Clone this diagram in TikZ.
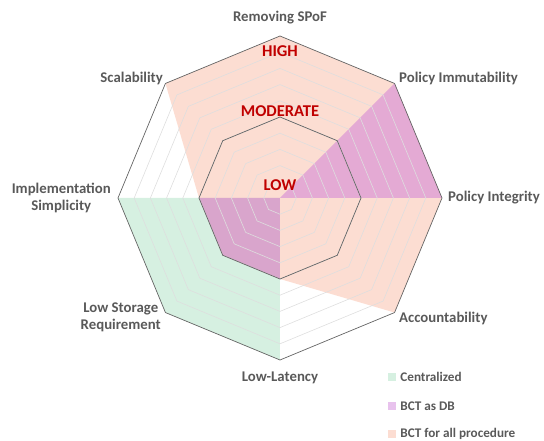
\documentclass[tikz,border=0pt]{standalone}
\usepackage{fontspec}
\setmainfont{Carlito}
\usetikzlibrary{positioning}
\definecolor{axisgray}{RGB}{89,89,89}
\definecolor{gridgray}{RGB}{222,222,222}
\definecolor{ringgray}{RGB}{100,100,100}
\definecolor{levelred}{RGB}{192,0,0}
\definecolor{centralgreen}{RGB}{173,225,195}
\definecolor{dbpurple}{RGB}{205,120,215}
\definecolor{allsalmon}{RGB}{249,187,165}

\begin{document}
\begin{tikzpicture}[x=1pt, y=1pt,
    axislabel/.style={text=axisgray, font=\fontsize{14.8}{17}\selectfont\bfseries, align=center, inner sep=1pt},
    levellabel/.style={text=levelred, font=\fontsize{16.5}{18}\selectfont\bfseries, inner sep=0pt},
    legendtext/.style={text=axisgray, font=\fontsize{13.2}{15}\selectfont\bfseries, inner sep=0pt, anchor=west},
    swatch/.style={minimum width=8pt, minimum height=8pt, inner sep=0pt},
    grid/.style={draw=gridgray, line width=0.6pt},
    ring/.style={draw=ringgray, line width=0.7pt}]
    \useasboundingbox (-280,-243) rectangle (264,198);

    % series: Centralized, BCT for all procedure, BCT as DB
    \fill[centralgreen, fill opacity=0.5] (90:0) -- (45:0) -- (0:0) -- (-45:0) -- (-90:162) -- (-135:162) -- (180:162) -- (135:0) -- cycle;
    \fill[allsalmon, fill opacity=0.5] (90:162) -- (45:162) -- (0:162) -- (-45:162) -- (-90:81) -- (-135:81) -- (180:81) -- (135:162) -- cycle;
    \fill[dbpurple, fill opacity=0.5] (90:0) -- (45:162) -- (0:162) -- (-45:0) -- (-90:81) -- (-135:81) -- (180:81) -- (135:0) -- cycle;

    % rings
    \foreach \l in {1,...,9} {
        \pgfmathsetmacro{\r}{16.2*\l}
        \draw[grid] (90:\r) \foreach \a in {45,0,...,-225} { -- (\a:\r) } -- cycle;
    }
    \draw[ring] (90:81) \foreach \a in {45,0,...,-225} { -- (\a:81) } -- cycle;
    \draw[ring] (90:162) \foreach \a in {45,0,...,-225} { -- (\a:162) } -- cycle;

    \node[levellabel] (high) at (0,147) {HIGH};
    \node[levellabel] (moderate) at (0,87) {MODERATE};
    \node[levellabel] (low) at (0,13) {LOW};

    \node[axislabel] (spof) at (0,180) {Removing SPoF};
    \node[axislabel, anchor=west] (immut) at (118,120) {Policy Immutability};
    \node[axislabel, anchor=west] (integ) at (167,0) {Policy Integrity};
    \node[axislabel, anchor=west] (acct) at (118,-120) {Accountability};
    \node[axislabel] (latency) at (0,-180) {Low-Latency};
    \node[axislabel, anchor=east] (storage) at (-118,-119) {Low Storage\\Requirement};
    \node[axislabel, anchor=east] (simpl) at (-168,0) {Implementation\\Simplicity};
    \node[axislabel, anchor=east] (scal) at (-116,120) {Scalability};

    % legend
    \node[swatch, fill=centralgreen!50] (legcent) at (112,-179) {};
    \node[swatch, fill=dbpurple!45] (legdb) at (112,-208) {};
    \node[swatch, fill=allsalmon!50] (legall) at (112,-236) {};
    \node[legendtext, right=4pt of legcent] (centtext) {Centralized};
    \node[legendtext, right=4pt of legdb] (dbtext) {BCT as DB};
    \node[legendtext, right=4pt of legall] (alltext) {BCT for all procedure};
\end{tikzpicture}
\end{document}
